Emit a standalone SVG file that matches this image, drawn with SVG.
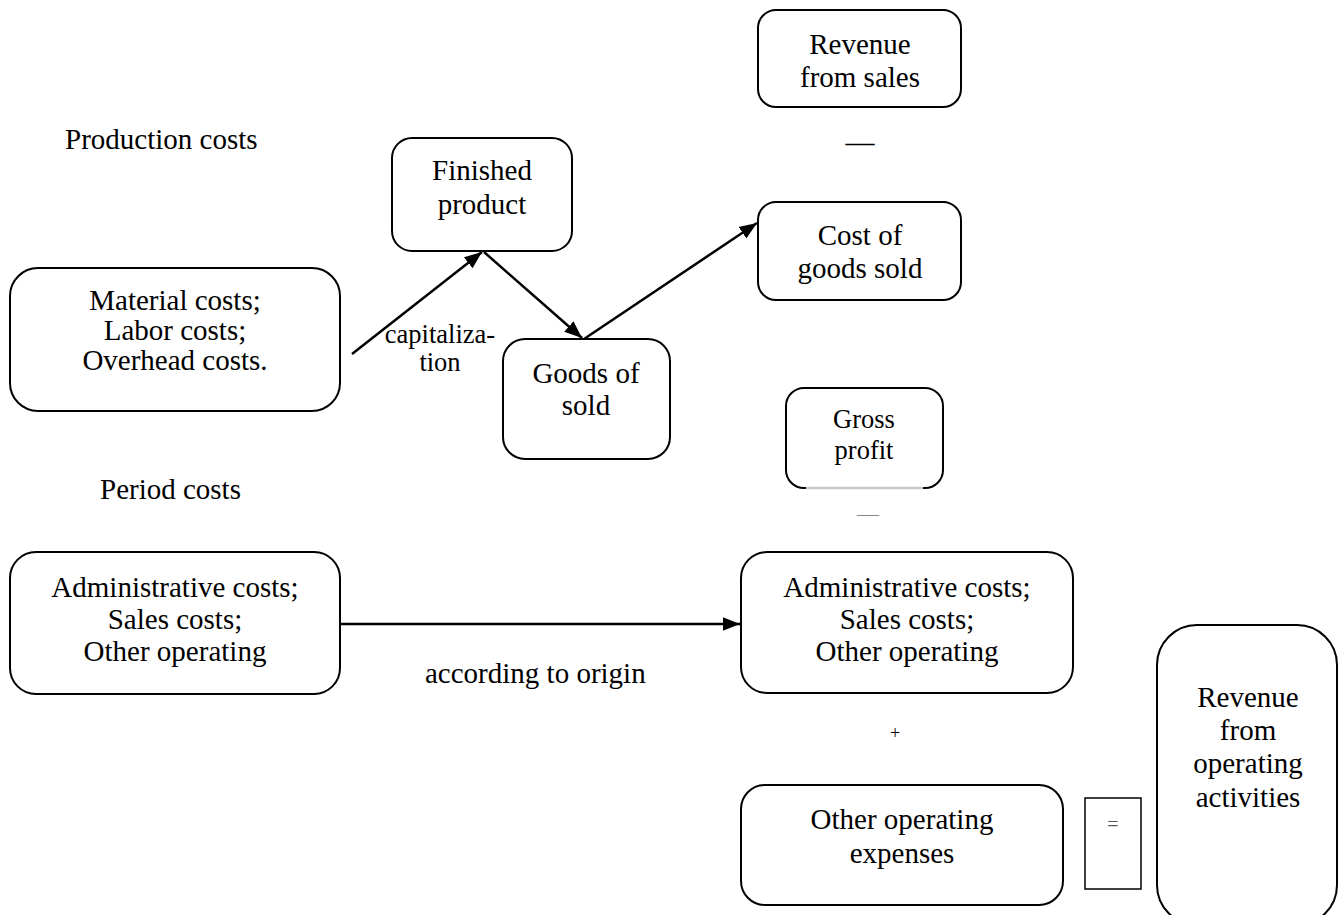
<svg xmlns="http://www.w3.org/2000/svg" width="1338" height="915" viewBox="0 0 1338 915" font-family="Liberation Serif, Tinos, Times New Roman, DejaVu Serif, serif">
<style>
text{font-family:'Liberation Serif','Times New Roman','DejaVu Serif',serif;fill:#000}
.box{fill:#fff;stroke:#000;stroke-width:2}
.t{font-size:29px;text-anchor:middle}
.s{font-size:26.5px;text-anchor:middle}
.l{font-size:29px}
.c{stroke:#000;stroke-width:2.5;fill:none;marker-end:url(#ah)}
</style>
<defs>
<marker id="ah" viewBox="0 0 10 10" refX="10" refY="5" markerWidth="7" markerHeight="7" markerUnits="strokeWidth" orient="auto">
<path d="M0,1 L10,5 L0,9 z" fill="#000"/>
</marker>
</defs>
<rect width="1338" height="915" fill="#fff"/>
<text class="l" x="65" y="149">Production costs</text>
<text class="l" x="100" y="499">Period costs</text>
<g id="connectors">
<line class="c" x1="352" y1="354" x2="482" y2="252"/>
<line class="c" x1="484" y1="252" x2="582" y2="338"/>
<line class="c" x1="584" y1="339" x2="757" y2="223"/>
<line class="c" x1="340" y1="624" x2="740" y2="624"/>
<text class="s" x="440" y="343">capitaliza-</text>
<text class="s" x="440" y="371">tion</text>
<text class="l" x="425" y="683">according to origin</text>
</g>
<g id="material">
<rect class="box" x="10" y="268" width="330" height="143" rx="28"/>
<text class="t" x="175" y="310">Material costs;</text>
<text class="t" x="175" y="340">Labor costs;</text>
<text class="t" x="175" y="370">Overhead costs.</text>
</g>
<g id="finished">
<rect class="box" x="392" y="138" width="180" height="113" rx="20"/>
<text class="t" x="482" y="180">Finished</text>
<text class="t" x="482" y="214">product</text>
</g>
<g id="goods">
<rect class="box" x="503" y="339" width="167" height="120" rx="22"/>
<text class="t" x="586" y="383">Goods of</text>
<text class="t" x="586" y="415">sold</text>
</g>
<g id="revenue-sales">
<rect class="box" x="758" y="10" width="203" height="97" rx="18"/>
<text class="t" x="860" y="54">Revenue</text>
<text class="t" x="860" y="87">from sales</text>
</g>
<text class="t" x="860" y="152">—</text>
<g id="cogs">
<rect class="box" x="758" y="202" width="203" height="98" rx="18"/>
<text class="t" x="860" y="245">Cost of</text>
<text class="t" x="860" y="278">goods sold</text>
</g>
<g id="gross">
<rect class="box" x="786" y="388" width="157" height="100" rx="18"/>
<line x1="806" y1="488" x2="923" y2="488" stroke="#c8c8c8" stroke-width="2.5"/>
<text class="s" x="864" y="428">Gross</text>
<text class="s" x="864" y="459">profit</text>
</g>
<text class="s" x="868" y="521" style="fill:#888;font-size:22px">—</text>
<g id="admin-left">
<rect class="box" x="10" y="552" width="330" height="142" rx="26"/>
<text class="t" x="175" y="597">Administrative costs;</text>
<text class="t" x="175" y="629">Sales costs;</text>
<text class="t" x="175" y="661">Other operating</text>
</g>
<g id="admin-right">
<rect class="box" x="741" y="552" width="332" height="141" rx="26"/>
<text class="t" x="907" y="597">Administrative costs;</text>
<text class="t" x="907" y="629">Sales costs;</text>
<text class="t" x="907" y="661">Other operating</text>
</g>
<text class="s" x="895" y="739" style="font-size:18px">+</text>
<g id="other-exp">
<rect class="box" x="741" y="785" width="322" height="120" rx="24"/>
<text class="t" x="902" y="829">Other operating</text>
<text class="t" x="902" y="863">expenses</text>
</g>
<g id="equals">
<rect x="1085" y="798" width="56" height="91" fill="#fff" stroke="#000" stroke-width="1.5"/>
<text class="s" x="1113" y="831" style="font-size:20px;fill:#555">=</text>
</g>
<g id="revenue-op">
<rect class="box" x="1157" y="625" width="180" height="300" rx="40"/>
<text class="t" x="1248" y="707">Revenue</text>
<text class="t" x="1248" y="740">from</text>
<text class="t" x="1248" y="773">operating</text>
<text class="t" x="1248" y="807">activities</text>
</g>
</svg>
